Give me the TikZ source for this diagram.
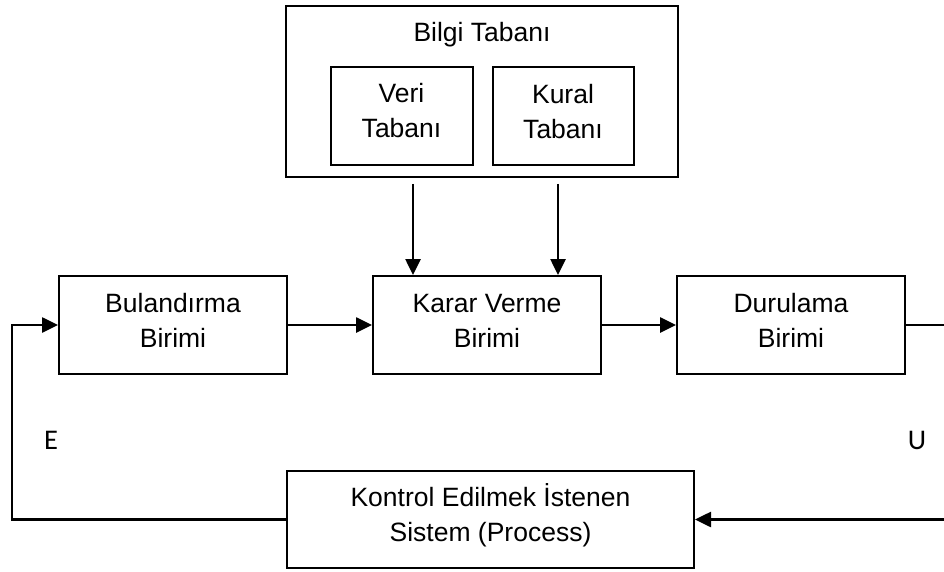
\documentclass[tikz,border=0pt]{standalone}
\usepackage{fontspec}
\setmainfont{Liberation Sans}
\newfontfamily\calibrifont{Carlito}
\usetikzlibrary{arrows.meta}

\begin{document}
\begin{tikzpicture}[line cap=butt,line join=miter,>={Triangle[length=16pt,width=15pt]},x=1pt,y=-1pt,
  kutu/.style={draw,line width=2pt,minimum height=98pt,minimum width=228pt,align=center,
    font=\fontsize{26.5}{35}\selectfont,text height=54pt,text depth=10pt},
  harf/.style={anchor=base,font=\calibrifont\fontsize{28.5}{30}\selectfont},
  ok/.style={->,line width=2.6pt}]
\clip(0,0) rectangle (944,572);
% bilgi tabani
\node[draw,line width=2pt,minimum width=392pt,minimum height=171pt] (bilgi) at (482,91.5) {};
\node[anchor=base,font=\fontsize{26.5}{35}\selectfont] (bilgibaslik) at (482,42) {Bilgi Tabanı};
\node[kutu,minimum width=142pt] (veri) at (401.5,116) {Veri\\Tabanı};
\node[kutu,minimum width=141pt] (kural) at (563,116.5) {Kural\\Tabanı};
% birimler
\node[kutu] (bul) at (173,325) {Bulandırma\\Birimi};
\node[kutu] (karar) at (487,325) {Karar Verme\\Birimi};
\node[kutu] (dur) at (791,325) {Durulama\\Birimi};
\node[kutu,minimum width=407pt,minimum height=97pt] (proc) at (490.5,519.5) {Kontrol Edilmek İstenen\\Sistem (Process)};
\node[harf] (E) at (51,449) {E};
\node[harf] (U) at (917,449) {U};
% oklar
\coordinate (k1) at ([xshift=-74pt]karar.north);
\coordinate (k2) at ([xshift=71pt]karar.north);
\draw[ok,shorten <=6pt] (bilgi.south -| k1) -- (k1);
\draw[ok,shorten <=6pt] (bilgi.south -| k2) -- (k2);
\draw[ok] (bul.east) -- (karar.west);
\draw[ok] (karar.east) -- (dur.west);
\coordinate (sag) at (946,440);
\coordinate (sol) at (12,440);
\draw[ok] (dur.east) -| (sag) |- (proc.east);
\draw[ok] (proc.west) -| (sol) |- (bul.west);
\end{tikzpicture}
\end{document}
